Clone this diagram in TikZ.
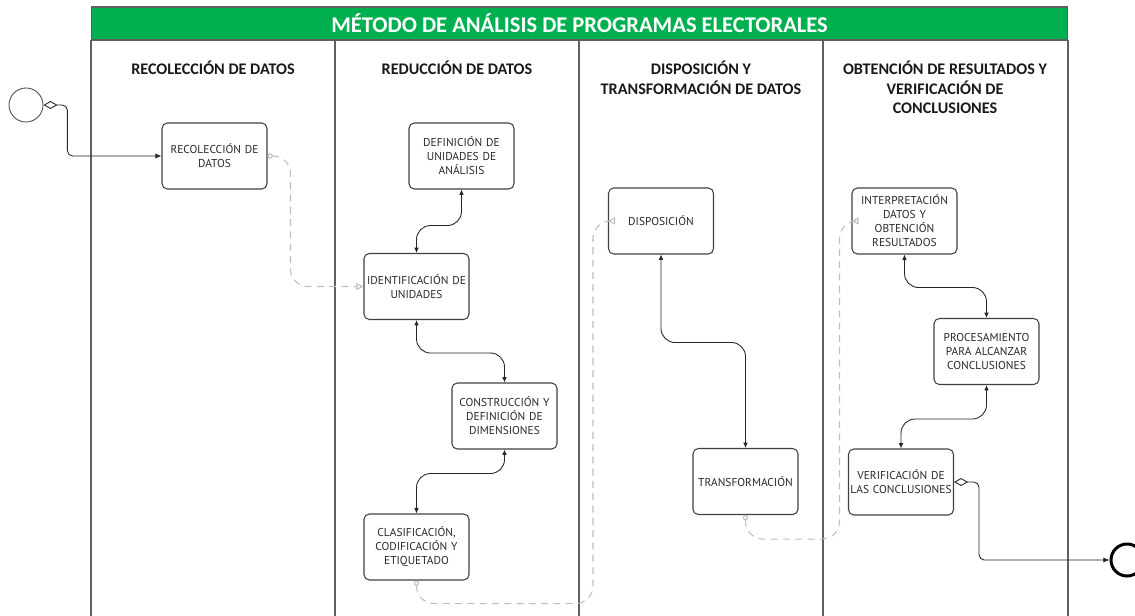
\documentclass[tikz,border=0pt]{standalone}
\usepackage{fontspec}
\setmainfont{Carlito}
\newfontfamily\boxfont{PT Sans}
\usepackage{tikz}
\usetikzlibrary{arrows.meta}
\usetikzlibrary{calc}

\definecolor{bargreen}{RGB}{0,176,80}
\definecolor{boxtext}{RGB}{40,40,40}
\definecolor{laneline}{RGB}{95,95,95}
\definecolor{dashgray}{RGB}{190,190,190}

\tikzset{
  task/.style={draw=black!75, line width=0.6pt, rounded corners=3pt,
    minimum width=2.1cm, minimum height=1.32cm, text width=2.1cm,
    align=center, inner sep=0pt, text=boxtext,
    font=\boxfont\fontsize{6.5}{8}\selectfont},
  lanehead/.style={font=\bfseries\fontsize{9.2}{11}\selectfont,
    align=center, anchor=north, inner sep=0pt, text=black!90},
  lane/.style={draw=laneline, line width=0.6pt},
  flow/.style={draw=black!85, line width=0.5pt, rounded corners=8pt,
    {Latex[length=3pt,width=2.6pt]}-{Latex[length=3pt,width=2.6pt]}},
  msg/.style={draw=dashgray, line width=0.6pt, dash pattern=on 4pt off 3pt,
    rounded corners=10pt,
    {Circle[open,length=3pt,width=3pt]}-{Triangle[open,length=4pt,width=4pt]}},
  seq/.style={draw=black!85, line width=0.5pt, rounded corners=3pt,
    {Diamond[open,length=8pt,width=4.5pt]}-{Latex[length=3.5pt,width=3pt]}},
}

\begin{document}
\begin{tikzpicture}[x=0.02cm, y=-0.02cm] %[1 unit = 1 px]
  \useasboundingbox (0,0) rectangle (1135,615);
  % pool and lanes
  \node (bar) at (579.5,23.5) [fill=bargreen, draw=laneline, line width=0.6pt,
    minimum width=19.54cm, minimum height=0.66cm, inner sep=0pt, text=white,
    font=\bfseries\fontsize{12.8}{14}\selectfont]
    {MÉTODO DE ANÁLISIS DE PROGRAMAS ELECTORALES};
  \draw [lane] (91,40) -- (91,630);
  \draw [lane] (335,40) -- (335,630);
  \draw [lane] (579,40) -- (579,630);
  \draw [lane] (823,40) -- (823,630);
  \draw [lane] (1068,40) -- (1068,630);
  \node (h1) at (213,61) [lanehead] {RECOLECCIÓN DE DATOS};
  \node (h2) at (457,61) [lanehead] {REDUCCIÓN DE DATOS};
  \node (h3) at (701,61) [lanehead] {DISPOSICIÓN Y\\TRANSFORMACIÓN DE DATOS};
  \node (h4) at (945,61) [lanehead] {OBTENCIÓN DE RESULTADOS Y\\VERIFICACIÓN DE\\CONCLUSIONES};
  % events
  \node (start) at (26,105) [circle, draw=black!70, line width=0.5pt,
    minimum size=0.68cm, inner sep=0pt] {};
  \node (end) at (1127,560) [circle, draw=black, line width=1.7pt,
    minimum size=0.64cm, inner sep=0pt] {};
  % tasks
  \node (rec) at (214.5,156) [task] {RECOLECCIÓN DE\\DATOS};
  \node (defi) at (461.5,156) [task] {DEFINICIÓN DE\\UNIDADES DE\\ANÁLISIS};
  \node (iden) at (416.5,286.5) [task] {IDENTIFICACIÓN DE\\UNIDADES};
  \node (cons) at (504.5,416) [task] {CONSTRUCCIÓN Y\\DEFINICIÓN DE\\DIMENSIONES};
  \node (clas) at (416.5,547) [task] {CLASIFICACIÓN,\\CODIFICACIÓN Y\\ETIQUETADO};
  \node (disp) at (661,221) [task] {DISPOSICIÓN};
  \node (trans) at (745.5,481.5) [task] {TRANSFORMACIÓN};
  \node (interp) at (904.5,221) [task] {INTERPRETACIÓN\\DATOS Y\\OBTENCIÓN\\RESULTADOS};
  \node (proc) at (986.5,351.5) [task] {PROCESAMIENTO\\PARA ALCANZAR\\CONCLUSIONES};
  \node (verif) at (901,482) [task] {VERIFICACIÓN DE\\LAS CONCLUSIONES};
  % sequence flows
  \draw [seq] (start.east) -- ++(24,0) |- (rec.west);
  \draw [seq] (verif.east) -- ++(25,0) |- (end.west);
  \draw [flow] (defi.south) -- ++(0,36) -| (iden.north);
  \draw [flow] (iden.south) -- ++(0,33) -| (cons.north);
  \draw [flow] (cons.south) -- ++(0,24) -| (clas.north);
  \draw [flow] (disp.south) -- ++(0,88) -| (trans.north);
  \draw [flow] (interp.south) -- ++(0,33) -| (proc.north);
  \draw [flow] (proc.south) -- ++(0,34) -| (verif.north);
  % message flows
  \draw [msg] (rec.east) -- ++(23,0) |- (iden.west);
  \draw [msg] (clas.south) -- ++(0,23) -- ++(176.5,0) |- (disp.west);
  \draw [msg] (trans.south) -- ++(0,24) -- ++(94,0) |- (interp.west);
\end{tikzpicture}
\end{document}
